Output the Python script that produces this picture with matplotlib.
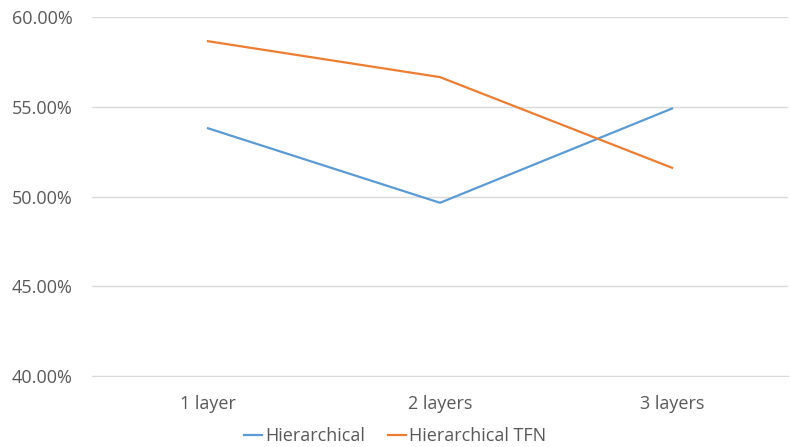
import matplotlib.pyplot as plt
from matplotlib.ticker import FuncFormatter

categories = ['1 layer', '2 layers', '3 layers']
hierarchical = [53.8, 49.65, 54.9]
hierarchical_tfn = [58.65, 56.65, 51.6]
y_ticks = [40, 45, 50, 55, 60]

plt.rcParams['font.family'] = ['Open Sans', 'DejaVu Sans']

fig = plt.figure(figsize=(7.9, 4.47), dpi=100)
ax = fig.add_axes([0.1165, 0.1588, 0.881, 0.8032])

x = range(len(categories))
ax.plot(x, hierarchical, color='#5B9BD5', lw=1.6, label='Hierarchical')
ax.plot(x, hierarchical_tfn, color='#ED7D31', lw=1.6, label='Hierarchical TFN')

ax.set_xlim(-0.5, len(categories) - 0.5)
ax.set_ylim(40, 60)
ax.set_yticks(y_ticks)
ax.yaxis.set_major_formatter(FuncFormatter(lambda v, p: f'{v:.2f}%'))
ax.set_xticks(list(x))
ax.set_xticklabels(categories)

ax.grid(axis='y', color='#D9D9D9', lw=1)
ax.set_axisbelow(True)
for s in ['top', 'right', 'left']:
    ax.spines[s].set_visible(False)
ax.spines['bottom'].set_color('#D9D9D9')
ax.tick_params(length=0, labelsize=13, colors='#595959')
ax.tick_params(axis='x', pad=14)
ax.tick_params(axis='y', pad=14)

fig.legend(loc='lower center', ncol=2, frameon=False, fontsize=13,
           bbox_to_anchor=(0.5, -0.032), handlelength=1.0, columnspacing=1.3,
           handletextpad=0.15, labelcolor='#595959')

fig.savefig('out.png')
